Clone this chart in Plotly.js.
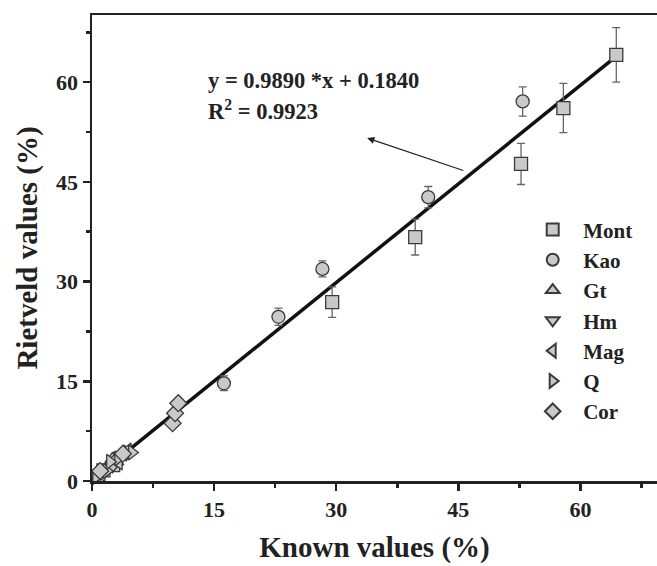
<!DOCTYPE html>
<html>
<head>
<meta charset="utf-8">
<script src="https://cdn.plot.ly/plotly-3.0.1.min.js"></script>
<style>html,body{margin:0;padding:0;background:#fff;}#chart{width:657px;height:566px;}</style>
</head>
<body>
<div id="chart"></div>
<script>
// ---- data ----
const montX = [29.5, 39.7, 52.7, 57.9, 64.4, 2.6, 1.4];
const montY = [26.9, 36.7, 47.7, 56.1, 64.1, 2.4, 1.6];
const montErr = [2.3, 2.7, 3.1, 3.7, 4.1, 0, 0];

const kaoX = [16.2, 22.9, 28.3, 41.3, 52.9];
const kaoY = [14.7, 24.7, 31.9, 42.7, 57.1];
const kaoErr = [1.1, 1.3, 1.2, 1.6, 2.2];

const gtX = [1.0, 2.0, 3.0, 2.5, 4.0];
const gtY = [1.2, 2.3, 2.9, 3.3, 4.4];
const hmX = [0.8, 1.5, 2.5, 3.5, 4.2];
const hmY = [0.7, 1.8, 2.2, 3.8, 4.0];
const magX = [1.2, 2.8, 4.4, 3.3];
const magY = [1.0, 3.2, 4.6, 2.8];
const qX = [0.5, 1.8, 3.2, 4.9, 2.2];
const qY = [0.6, 1.5, 3.4, 4.3, 2.9];
const corX = [9.9, 10.2, 10.6, 1.0, 3.8];
const corY = [8.7, 10.2, 11.7, 1.5, 4.1];

const slope = 0.9890, intercept = 0.1840, r2 = 0.9923;
const fitRange = [0, 64.5];

const names = ['Mont', 'Kao', 'Gt', 'Hm', 'Mag', 'Q', 'Cor'];
const symbols = ['square', 'circle', 'triangle-up', 'triangle-down', 'triangle-left', 'triangle-right', 'diamond'];

const xTicks = [0, 15, 30, 45, 60];
const yTicks = [0, 15, 30, 45, 60];

// ---- styling ----
const serif = 'Liberation Serif, Times New Roman, serif';
const fill = '#c9c9c9';
const edge = '#3a3a3a';

function mk(i, x, y, err) {
  const t = {
    type: 'scatter', mode: 'markers', name: '&nbsp;&nbsp;' + names[i], x: x, y: y,
    legendgroup: names[i],
    cliponaxis: false,
    marker: { symbol: symbols[i], size: 13, color: fill, line: { color: edge, width: 1.3 } }
  };
  if (err) {
    t.error_y = { type: 'data', array: err, visible: true, color: '#666', thickness: 1.3, width: 4 };
  }
  return t;
}

const fitX = fitRange;
const fitY = fitRange.map(v => slope * v + intercept);

const traces = [
  { type: 'scatter', mode: 'lines', x: fitX, y: fitY, showlegend: false,
    line: { color: '#111', width: 3.5 }, hoverinfo: 'skip' },
  mk(0, montX, montY, montErr),
  mk(1, kaoX, kaoY, kaoErr),
  mk(2, gtX, gtY),
  mk(3, hmX, hmY),
  mk(4, magX, magY),
  mk(5, qX, qY),
  mk(6, corX, corY)
];

const layout = {
  width: 657, height: 566,
  margin: { l: 92, r: 0, t: 15, b: 85 },
  paper_bgcolor: '#fff', plot_bgcolor: '#fff',
  font: { family: serif, color: '#222', size: 20, weight: 'bold' },
  showlegend: true,
  legend: {
    x: 0.780, y: 0.583, xanchor: 'left', yanchor: 'top',
    bgcolor: 'rgba(0,0,0,0)', font: { family: serif, size: 21, weight: 'bold', color: '#222' },
    tracegroupgap: 0, itemsizing: 'constant'
  },
  xaxis: {
    range: [0, 69.4], tickvals: xTicks, ticktext: xTicks.map(String),
    showgrid: false, zeroline: false, showline: true, linecolor: '#222', linewidth: 2.5,
    mirror: true, ticks: 'outside', ticklen: 7, tickwidth: 2.5, tickcolor: '#222',
    minor: { dtick: 7.5, tick0: 0, ticks: 'outside', ticklen: 4, tickwidth: 2.5, tickcolor: '#222' },
    tickfont: { family: serif, size: 22, weight: 'bold', color: '#222' },
    title: { text: 'Known values (%)', font: { family: serif, size: 29, weight: 'bold', color: '#222' }, standoff: 16 }
  },
  yaxis: {
    range: [0, 70.1], tickvals: yTicks, ticktext: yTicks.map(String),
    showgrid: false, zeroline: false, showline: true, linecolor: '#222', linewidth: 2.5,
    ticks: 'outside', ticklen: 7, tickwidth: 2.5, tickcolor: '#222',
    minor: { dtick: 7.5, tick0: 0, ticks: 'outside', ticklen: 4, tickwidth: 2.5, tickcolor: '#222' },
    tickfont: { family: serif, size: 22, weight: 'bold', color: '#222' },
    title: { text: 'Rietveld values (%)', font: { family: serif, size: 29, weight: 'bold', color: '#222' }, standoff: 10 }
  },
  annotations: [
    { xref: 'x', yref: 'y', x: 14.0, y: 60.3, xanchor: 'left', yanchor: 'middle', showarrow: false,
      text: 'y = ' + slope.toFixed(4) + ' *x + ' + intercept.toFixed(4),
      font: { family: serif, size: 22.5, weight: 'bold', color: '#222' } },
    { xref: 'x', yref: 'y', x: 14.0, y: 55.8, xanchor: 'left', yanchor: 'middle', showarrow: false,
      text: 'R<sup>2</sup> = ' + r2.toFixed(4),
      font: { family: serif, size: 22.5, weight: 'bold', color: '#222' } },
    { xref: 'x', yref: 'y', axref: 'x', ayref: 'y', x: 33.8, y: 51.6, ax: 46.1, ay: 46.5,
      showarrow: true, arrowhead: 2, arrowsize: 1.2, arrowwidth: 1.2, arrowcolor: '#222', text: ' ' }
  ]
};

Plotly.newPlot('chart', traces, layout, { displayModeBar: false, staticPlot: true });
</script>
</body>
</html>
